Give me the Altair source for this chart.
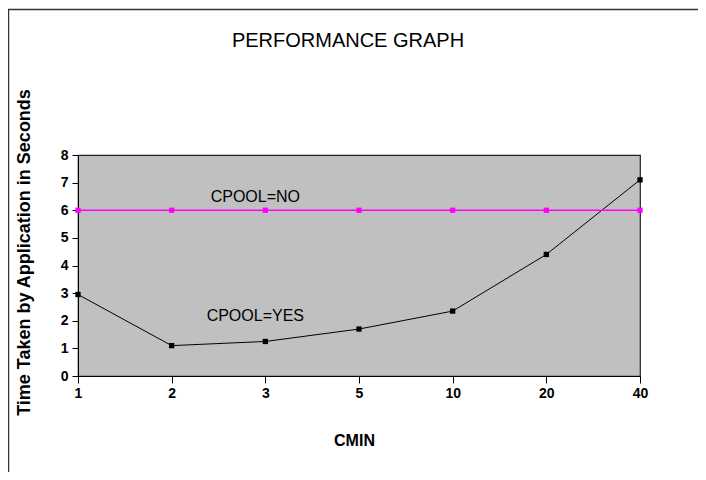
import altair as alt
import pandas as pd

# ---- data ----
cmin = ["1", "2", "3", "5", "10", "20", "40"]
cpool_yes = [2.95, 1.1, 1.25, 1.7, 2.35, 4.4, 7.1]
cpool_no = [6, 6, 6, 6, 6, 6, 6]
series_names = ["CPOOL=YES", "CPOOL=NO"]
series_colors = ["#000000", "#FF00FF"]
y_ticks = [0, 1, 2, 3, 4, 5, 6, 7, 8]

annot_text = ["CPOOL=NO", "CPOOL=YES"]
annot_cmin = ["3", "3"]
annot_time = [6.3, 2.0]

rows = []
for c, a, b in zip(cmin, cpool_yes, cpool_no):
    rows.append({"cmin": c, "series": "CPOOL=YES", "time": a})
    rows.append({"cmin": c, "series": "CPOOL=NO", "time": b})
df = pd.DataFrame(rows)
ann = pd.DataFrame({"cmin": annot_cmin, "time": annot_time, "label": annot_text})

FONT = "Liberation Sans"

x_enc = alt.X(
    "cmin:O",
    sort=cmin,
    scale=alt.Scale(type="point", padding=0),
    axis=alt.Axis(
        title="CMIN",
        labelAngle=0,
        tickSize=7,
        labelPadding=3,
        titleX=276,
        titleY=69,
        titleAlign="center",
        titleBaseline="alphabetic",
        titleFontSize=16,
    ),
)
y_enc = alt.Y(
    "time:Q",
    scale=alt.Scale(domain=[0, 8], nice=False),
    axis=alt.Axis(
        title="Time Taken by Application in Seconds",
        values=y_ticks,
        tickCount=9,
        labelOverlap=False,
        grid=False,
        tickSize=6,
        labelPadding=4,
        titleAngle=-90,
        titleX=-45,
        titleY=97,
        titleAlign="center",
        titleBaseline="bottom",
        titleFontSize=18,
    ),
)
color_enc = alt.Color(
    "series:N", scale=alt.Scale(domain=series_names, range=series_colors), legend=None
)
width_enc = alt.StrokeWidth(
    "series:N", scale=alt.Scale(domain=series_names, range=[1.0, 1.6]), legend=None
)

lines = alt.Chart(df).mark_line().encode(x=x_enc, y=y_enc, color=color_enc, strokeWidth=width_enc)
points = alt.Chart(df).mark_point(shape="square", filled=True, size=28, opacity=1).encode(
    x=x_enc, y=y_enc, color=color_enc
)
labels = alt.Chart(ann).mark_text(
    font=FONT, fontSize=16, align="center", baseline="alphabetic", dx=-10, color="black"
).encode(x=x_enc, y=y_enc, text="label:N")

one = pd.DataFrame({"k": [0]})
border_left = alt.Chart(one).mark_rule(color="#333333", strokeWidth=1.5).encode(
    x=alt.value(-69.5), y=alt.value(-146), y2=alt.value(317)
)
border_top = alt.Chart(one).mark_rule(color="#333333", strokeWidth=1.5).encode(
    x=alt.value(-70), x2=alt.value(620), y=alt.value(-145.5)
)

chart = (
    alt.layer(lines, points, labels, border_left, border_top)
    .properties(
        width=562,
        height=221,
        autosize=alt.AutoSizeParams(type="none"),
        padding={"left": 70, "top": 147, "right": 58, "bottom": 96},
        background="white",
        title=alt.TitleParams(
            "PERFORMANCE GRAPH",
            font=FONT,
            fontSize=20,
            fontWeight="normal",
            color="black",
            anchor="middle",
            baseline="alphabetic",
            dx=-11,
            offset=-59,
        ),
    )
    .configure_view(fill="#C0C0C0", stroke="#222222", strokeWidth=1.2)
    .configure_axis(
        domainColor="#000000",
        tickColor="#000000",
        labelFont=FONT,
        labelFontSize=14,
        labelFontWeight="bold",
        labelColor="#000000",
        titleFont=FONT,
        titleFontWeight="bold",
        titleColor="#000000",
    )
)

chart.save("out.html", embed_options={"renderer": "svg", "actions": False})
